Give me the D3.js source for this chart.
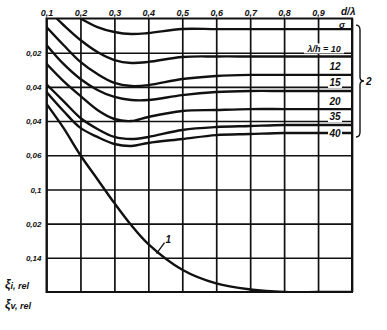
<!DOCTYPE html>
<html>
<head>
<meta charset="utf-8">
<script src="https://cdn.jsdelivr.net/npm/d3@7"></script>
<style>
  html, body { margin: 0; padding: 0; background: #fff; }
  svg { display: block; }
  text { font-family: "Liberation Sans", "DejaVu Sans", sans-serif; font-style: italic; font-weight: bold; fill: #111; }
</style>
</head>
<body>
<svg id="chart" width="387" height="330"></svg>
<script>
// Relative d/λ positions where the curves were read
const dOverLambda = [0.10, 0.13, 0.15, 0.20, 0.25, 0.30, 0.35, 0.40, 0.50, 0.60, 0.70, 0.80, 0.90, 1.00];

// Family 2: ξ_rel against d/λ for several λ/h (null = no reading at that d/λ)
const xiTop  = [null,   null,  null,   0.0000, 0.0050, 0.0079, 0.0091, 0.0085, 0.0061, 0.0062, 0.0062, 0.0062, 0.0062, 0.0062];
const xiH10  = [null,   0.000, 0.0038, 0.0126, 0.0196, 0.0243, 0.0260, 0.0254, 0.0225, 0.0222, 0.0222, 0.0222, 0.0222, 0.0222];
const xiH12  = [0.0050, null,  0.0155, 0.0254, 0.0325, 0.0377, 0.0395, 0.0390, 0.0354, 0.0336, 0.0330, 0.0330, 0.0330, 0.0330];
const xiH15  = [0.0155, null,  0.0266, 0.0354, 0.0418, 0.0459, 0.0477, 0.0477, 0.0448, 0.0430, 0.0424, 0.0424, 0.0424, 0.0424];
const xiH20  = [0.0265, null,  0.0366, 0.0453, 0.0535, 0.0588, 0.0600, 0.0576, 0.0541, 0.0535, 0.0530, 0.0530, 0.0530, 0.0530];
const xiH35  = [0.0385, null,  0.0483, 0.0582, 0.0646, 0.0693, 0.0705, 0.0693, 0.0652, 0.0635, 0.0629, 0.0623, 0.0623, 0.0623];
const xiH40  = [0.0430, null,  0.0541, 0.0640, 0.0693, 0.0734, 0.0746, 0.0728, 0.0705, 0.0682, 0.0676, 0.0670, 0.0670, 0.0670];

// Curve 1
const xiCurve1 = [0.050, null, 0.064, 0.080, 0.094, 0.108, 0.121, 0.132, 0.147, 0.155, 0.1585, 0.160, 0.160, 0.160];

const familySeries = [xiTop, xiH10, xiH12, xiH15, xiH20, xiH35, xiH40];
const familyLabels = [null, "λ/h = 10", "12", "15", "20", "35", "40"];

// Axes
const xTickValues = [0.1, 0.2, 0.3, 0.4, 0.5, 0.6, 0.7, 0.8, 0.9, 1.0];
const xTickLabels = ["0,1", "0,2", "0,3", "0,4", "0,5", "0,6", "0,7", "0,8", "0,9", ""];
const yTickValues = [0.02, 0.04, 0.06, 0.08, 0.10, 0.12, 0.14];
const yTickLabels = ["0,02", "0,04", "0,04", "0,06", "0,1", "0,02", "0,14"];

const svg = d3.select("#chart");
const plot = { left: 46.5, top: 18.5, right: 352, bottom: 292 };

const x = d3.scaleLinear().domain([0.1, 1.0]).range([plot.left, plot.right]);
const y = d3.scaleLinear().domain([0, 0.16]).range([plot.top, plot.bottom]);

// Grid drawn through the axes' tick lines
const xAxis = d3.axisTop(x)
  .tickValues(xTickValues)
  .tickSize(-(plot.bottom - plot.top))
  .tickPadding(3)
  .tickFormat((d, i) => xTickLabels[i]);
const gx = svg.append("g").attr("transform", `translate(0,${plot.top})`).call(xAxis);
gx.select(".domain").remove();
gx.selectAll(".tick line").attr("stroke", "#111").attr("stroke-width", 1.7);
gx.selectAll(".tick text").attr("font-size", 9).attr("fill", "#111");

const yAxis = d3.axisLeft(y)
  .tickValues(yTickValues)
  .tickSize(-(plot.right - plot.left))
  .tickPadding(5)
  .tickFormat((d, i) => yTickLabels[i]);
const gy = svg.append("g").attr("transform", `translate(${plot.left},0)`).call(yAxis);
gy.select(".domain").remove();
gy.selectAll(".tick line").attr("stroke", "#111").attr("stroke-width", 1.6);
gy.selectAll(".tick text").attr("font-size", 8).attr("fill", "#111");

// Frame
svg.append("rect")
  .attr("x", plot.left).attr("y", plot.top)
  .attr("width", plot.right - plot.left).attr("height", plot.bottom - plot.top)
  .attr("fill", "none").attr("stroke", "#111").attr("stroke-width", 2);

svg.append("text").attr("x", 341).attr("y", 15).attr("font-size", 10).text("d/λ");
svg.append("text").attr("x", 339).attr("y", 28).attr("font-size", 9).text("σ");

// Curves
svg.append("clipPath").attr("id", "plotClip")
  .append("rect")
  .attr("x", plot.left).attr("y", plot.top)
  .attr("width", plot.right - plot.left).attr("height", plot.bottom - plot.top);

const line = d3.line()
  .x(d => x(d.d))
  .y(d => y(d.v))
  .curve(d3.curveCatmullRom.alpha(0.5));

const toPoints = vals => dOverLambda.map((d, i) => ({ d, v: vals[i] })).filter(p => p.v != null);

const curves = svg.append("g").attr("clip-path", "url(#plotClip)");
familySeries.forEach(vals => {
  curves.append("path")
    .attr("d", line(toPoints(vals)))
    .attr("fill", "none").attr("stroke", "#111").attr("stroke-width", 2.4);
});
curves.append("path")
  .attr("d", line(toPoints(xiCurve1)))
  .attr("fill", "none").attr("stroke", "#111").attr("stroke-width", 2.4);

// λ/h labels in the right-hand column
const labelX = x(0.95);
familyLabels.forEach((lab, i) => {
  if (!lab) return;
  const vals = familySeries[i];
  const yEnd = y(vals[vals.length - 1]);
  const onLine = i === familyLabels.length - 1;
  const cy = onLine ? yEnd : yEnd - 8;
  const wide = lab.length > 3;
  const cx = wide ? labelX - 11 : labelX;
  const w = wide ? 40 : 14;
  svg.append("rect")
    .attr("x", cx - w / 2).attr("y", cy - 5)
    .attr("width", w).attr("height", 10)
    .attr("fill", "#fff");
  svg.append("text")
    .attr("x", cx).attr("y", cy + 3.5)
    .attr("text-anchor", "middle")
    .attr("font-size", wide ? 9 : 10)
    .text(lab);
});

// Brace grouping family 2
const bTop = y(xiTop[xiTop.length - 1]) - 4, bBot = y(xiH40[xiH40.length - 1]) + 4;
const bMid = (bTop + bBot) / 2;
svg.append("path")
  .attr("d", `M356,${bTop} Q360,${bTop} 360,${bTop + 5} L360,${bMid - 4} Q360,${bMid} 364,${bMid} Q360,${bMid} 360,${bMid + 4} L360,${bBot - 5} Q360,${bBot} 356,${bBot}`)
  .attr("fill", "none").attr("stroke", "#111").attr("stroke-width", 1.4);
svg.append("text").attr("x", 366).attr("y", bMid + 4).attr("font-size", 10).text("2");

// Curve 1 label with leader
const lx = x(0.43), ly = y(0.137);
svg.append("line")
  .attr("x1", lx - 2).attr("y1", ly + 1).attr("x2", lx + 6).attr("y2", ly - 10)
  .attr("stroke", "#111").attr("stroke-width", 1.3);
svg.append("text").attr("x", lx + 7).attr("y", ly - 10).attr("font-size", 10).text("1");

// Axis title
const t1 = svg.append("text").attr("x", 5).attr("y", 288).attr("font-size", 12);
t1.append("tspan").text("ξ");
t1.append("tspan").attr("font-size", 9).attr("dy", 1).text("i, rel");
const t2 = svg.append("text").attr("x", 5).attr("y", 308).attr("font-size", 12);
t2.append("tspan").text("ξ");
t2.append("tspan").attr("font-size", 9).attr("dy", 1).text("v, rel");
</script>
</body>
</html>
